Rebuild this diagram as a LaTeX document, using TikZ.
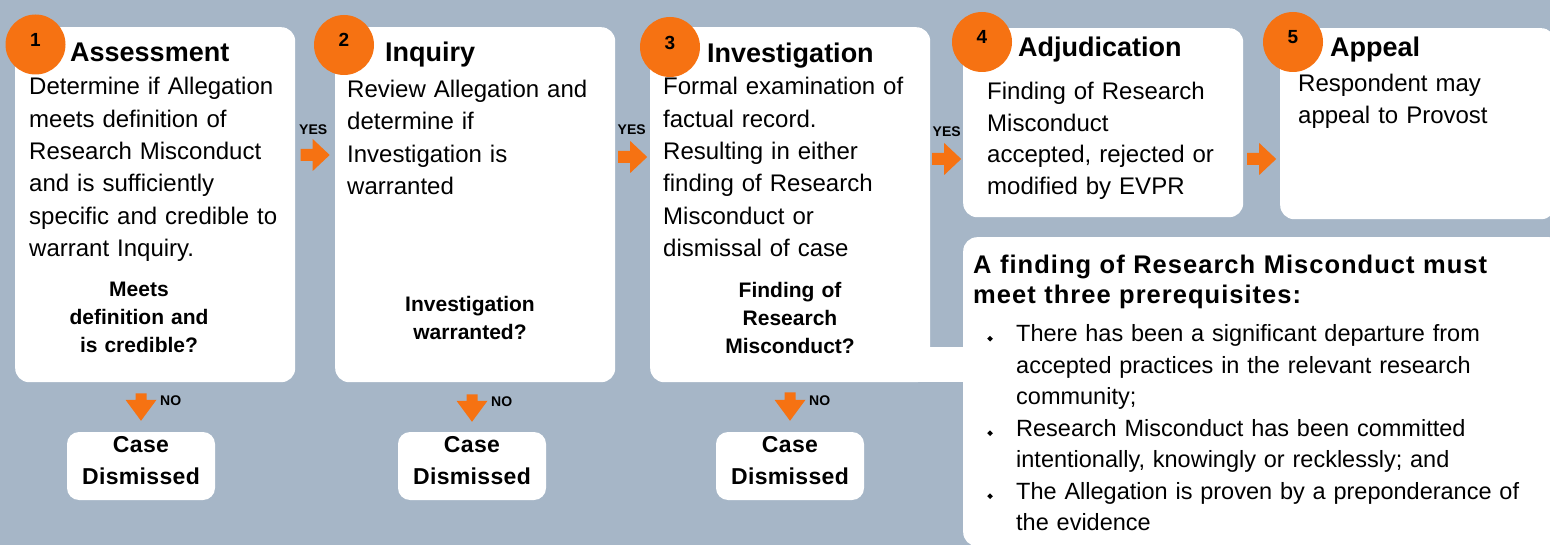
\documentclass[tikz,border=0pt]{standalone}
\usepackage{fontspec}
\setmainfont{Liberation Sans}
\usetikzlibrary{calc}
\definecolor{bg}{RGB}{166,182,199}
\definecolor{org}{RGB}{246,114,18}
\newcommand\fbody{\fontsize{24}{32.3}\selectfont}
\newcommand\fbodyb{\fontsize{24}{31.5}\selectfont}
\newcommand\fbodyc{\fontsize{23.5}{31.5}\selectfont}
\newcommand\ftitle{\fontsize{27}{30}\selectfont\bfseries}
\newcommand\fq{\fontsize{21}{28}\selectfont\bfseries}
\newcommand\fcase{\fontsize{23}{31.3}\selectfont\bfseries\addfontfeature{LetterSpace=1.5}}
\newcommand\fnum{\fontsize{19}{22}\selectfont\bfseries}
\newcommand\flbl{\fontsize{14}{16}\selectfont\bfseries}
\newcommand\fpt{\fontsize{25.5}{30}\selectfont\bfseries\addfontfeature{LetterSpace=4}}
\newcommand\rarr[2]{\fill[org] ($(#1)+(0,-6)$) -- ($(#2)+(-17,-6)$) -- ($(#2)+(-17,-16)$) -- (#2) -- ($(#2)+(-17,16)$) -- ($(#2)+(-17,6)$) -- ($(#1)+(0,6)$) -- cycle;}
\newcommand\darr[2]{\fill[org] ($(#1)+(-5.5,0)$) -- ($(#2)+(-5.5,-21)$) -- ($(#2)+(-15.5,-21)$) -- (#2) -- ($(#2)+(15.5,-21)$) -- ($(#2)+(5.5,-21)$) -- ($(#1)+(5.5,0)$) -- cycle;}
\begin{document}
\begin{tikzpicture}[x=1pt,y=-1pt,
  panel/.style={fill=white, rounded corners=14pt, inner sep=0pt, anchor=north west, draw=none},
  casebox/.style={fill=white, rounded corners=12pt, inner sep=0pt, minimum width=148pt, minimum height=68pt},
  numcirc/.style={circle, fill=org, minimum size=60pt, inner sep=0pt},
  num/.style={font=\fnum, inner sep=0pt, anchor=center},
  ttl/.style={font=\ftitle, inner sep=0pt, anchor=base west},
  body/.style={font=\fbody, inner sep=0pt, anchor=base west, text width=300pt, align=left},
  ques/.style={font=\fq, inner sep=0pt, anchor=base, text width=260pt, align=center},
  casetxt/.style={font=\fcase, inner sep=0pt, anchor=base, text width=148pt, align=center},
  lbl/.style={font=\flbl, inner sep=0pt},
]
\useasboundingbox (0,0) rectangle (1550,545);
\fill[bg] (0,0) rectangle (1550,545);

% panels
\node[panel, minimum width=280pt, minimum height=355pt] (b1) at (15,27) {};
\node[panel, minimum width=280pt, minimum height=355pt] (b2) at (335,27) {};
\node[panel, minimum width=280pt, minimum height=355pt] (b3) at (650,27) {};
\node[panel, minimum width=280pt, minimum height=189pt] (b4) at (963,28) {};
\node[panel, minimum width=275pt, minimum height=191pt] (b5) at (1280,28) {};
\node[panel, minimum width=600pt, minimum height=309pt] (b6) at (963,237) {};
\fill[white] (915,347) rectangle (970,382);

% case boxes
\node[casebox] (ca) at (141,466) {};
\node[casebox] (cb) at (472,466) {};
\node[casebox] (cc) at (790,466) {};
\node[casetxt] (cat) at (141,452.7) {Case\\Dismissed};
\node[casetxt] (cbt) at (472,452.7) {Case\\Dismissed};
\node[casetxt] (cct) at (790,452.7) {Case\\Dismissed};

% number circles
\node[numcirc] (n1) at (35.5,44.5) {};
\node[numcirc] (n2) at (344,45) {};
\node[numcirc] (n3) at (670,47) {};
\node[numcirc] (n4) at (982,42) {};
\node[numcirc] (n5) at (1293,42) {};
\node[num] (k1) at ($(n1)+(0,-5)$) {1};
\node[num] (k2) at ($(n2)+(0,-5)$) {2};
\node[num] (k3) at ($(n3)+(0,-4)$) {3};
\node[num] (k4) at ($(n4)+(0,-5.5)$) {4};
\node[num] (k5) at ($(n5)+(0,-5)$) {5};

% titles
\node[ttl] (t1) at (70,62) {Assessment};
\node[ttl] (t2) at (385,62) {Inquiry};
\node[ttl] (t3) at (707,63) {Investigation};
\node[ttl] (t4) at (1018,57) {Adjudication};
\node[ttl] (t5) at (1330,57) {Appeal};

% body texts
\node[body] (d1) at (29,95) {Determine if Allegation\\meets definition of\\Research Misconduct\\and is sufficiently\\specific and credible to\\warrant Inquiry.};
\node[body] (d2) at (347,97.5) {Review Allegation and\\determine if\\Investigation is\\warranted};
\node[body] (d3) at (663,95) {Formal examination of\\factual record.\\Resulting in either\\finding of Research\\Misconduct or\\dismissal of case};
\node[body, font=\fbodyb] (d4) at (987,100) {Finding of Research\\Misconduct\\accepted, rejected or\\modified by EVPR};
\node[body, font=\fbodyb] (d5) at (1298,92) {Respondent may\\appeal to Provost};

% questions
\node[ques] (q1) at (139,297) {Meets\\definition and\\is credible?};
\node[ques] (q2) at (470,312) {Investigation\\warranted?};
\node[ques] (q3) at (790,298) {Finding of\\Research\\Misconduct?};

% prerequisites
\node[inner sep=0pt, anchor=base west, font=\fpt, text width=570pt, align=left] (pt) at (973,273.3) {A finding of Research Misconduct must\\meet three prerequisites:};
\node[body, font=\fbodyc, text width=540pt] (pl) at (1016,341.7) {There has been a significant departure from\\\makebox[469pt][s]{accepted practices in the relevant research}\\community;\\Research Misconduct has been committed\\intentionally, knowingly or recklessly; and\\The Allegation is proven by a preponderance of\\the evidence};
\foreach \yy in {338.7,433.2,496.2}{
  \fill[black] (990,\yy-2.8) -- (992.8,\yy) -- (990,\yy+2.8) -- (987.2,\yy) -- cycle;
}

% right arrows
\coordinate (h1) at (0,155);
\coordinate (h2) at (0,157);
\coordinate (h3) at (0,159);
\coordinate (h4) at (0,159);
\path ($(b1.east)!0.5!(b2.west)$) coordinate (g1);
\path ($(b2.east)!0.5!(b3.west)$) coordinate (g2);
\path ($(b3.east)!0.5!(b4.west)$) coordinate (g3);
\path ($(b4.east)!0.5!(b5.west)$) coordinate (g4);
\path ($(g1|-h1)+(-14.5,0)$) coordinate (a1s) ($(g1|-h1)+(14.5,0)$) coordinate (a1e);
\path ($(g2|-h2)+(-14.5,0)$) coordinate (a2s) ($(g2|-h2)+(14.5,0)$) coordinate (a2e);
\path ($(g3|-h3)+(-14.5,0)$) coordinate (a3s) ($(g3|-h3)+(14.5,0)$) coordinate (a3e);
\path ($(g4|-h4)+(-14.5,0)$) coordinate (a4s) ($(g4|-h4)+(14.5,0)$) coordinate (a4e);
\rarr{a1s}{a1e}
\rarr{a2s}{a2e}
\rarr{a3s}{a3e}
\rarr{a4s}{a4e}
\node[lbl, anchor=base] (y1) at ($(a1s)!0.5!(a1e)+(-2,-20.5)$) {YES};
\node[lbl, anchor=base] (y2) at ($(a2s)!0.5!(a2e)+(-1,-22)$) {YES};
\node[lbl, anchor=base] (y3) at ($(a3s)!0.5!(a3e)+(0,-22.5)$) {YES};

% down arrows
\path ($(ca.north|-b1.south)+(0,11)$) coordinate (d1s) ($(ca.north)+(0,-11)$) coordinate (d1e);
\path ($(cb.north|-b2.south)+(0,12)$) coordinate (d2s) ($(cb.north)+(0,-10)$) coordinate (d2e);
\path ($(cc.north|-b3.south)+(0,10)$) coordinate (d3s) ($(cc.north)+(0,-11)$) coordinate (d3e);
\darr{d1s}{d1e}
\darr{d2s}{d2e}
\darr{d3s}{d3e}
\node[lbl, anchor=base west] (o1) at ($(d1s)+(19,12.5)$) {NO};
\node[lbl, anchor=base west] (o2) at ($(d2s)+(19,12.5)$) {NO};
\node[lbl, anchor=base west] (o3) at ($(d3s)+(19,13)$) {NO};
\end{tikzpicture}
\end{document}
